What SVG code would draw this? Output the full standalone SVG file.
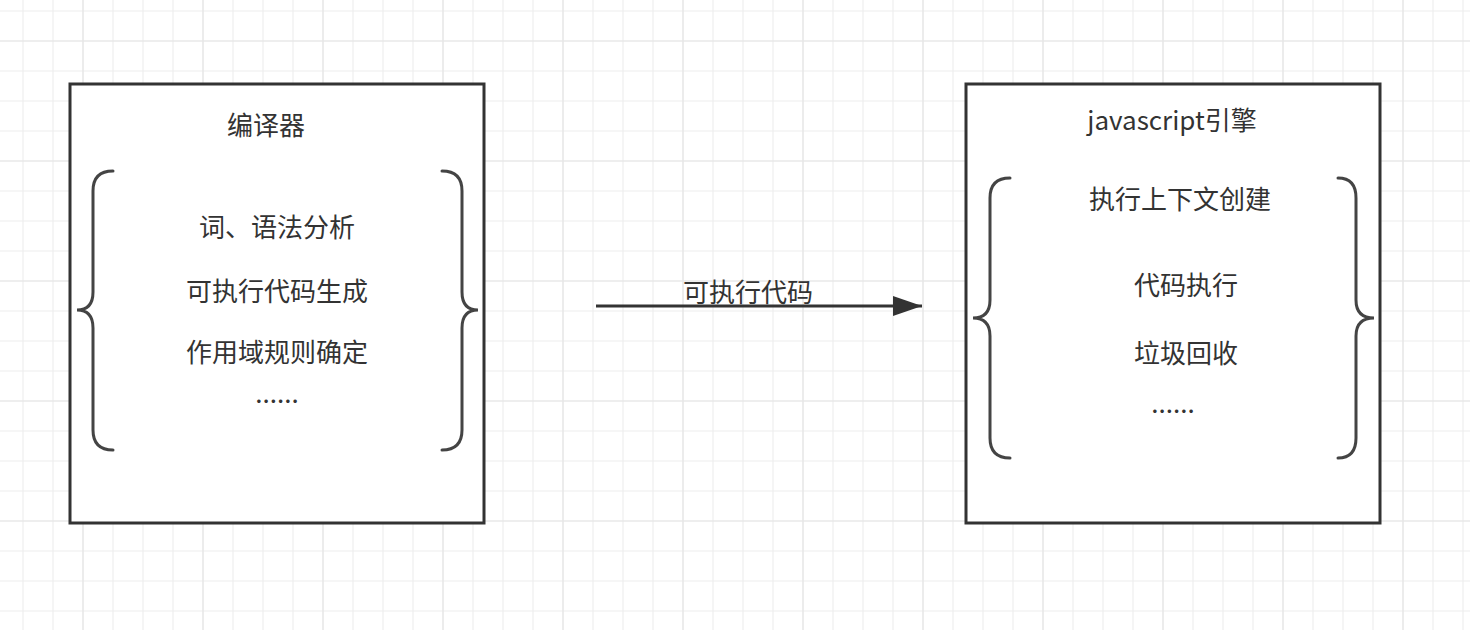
<svg xmlns="http://www.w3.org/2000/svg" width="1470" height="630" viewBox="0 0 1470 630">
  <defs>
    <pattern id="minor" patternUnits="userSpaceOnUse" x="8" y="-4" width="30" height="30">
      <path d="M15 0 V30 M0 15 H30" stroke="#eeeeee" stroke-width="1.2" fill="none"/>
    </pattern>
    <pattern id="major" patternUnits="userSpaceOnUse" x="23" y="-19" width="120" height="120">
      <path d="M60 0 V120 M0 60 H120" stroke="#e6e6e6" stroke-width="1.2" fill="none"/>
    </pattern>
    <marker id="arrow" markerUnits="userSpaceOnUse" markerWidth="32" markerHeight="24" refX="30" refY="10" orient="auto">
      <path d="M1,0 L30,10 L1,20 Z" fill="#333333"/>
    </marker>
    <style>
      .box { fill: #ffffff; stroke: #333333; stroke-width: 3; }
      .brace { fill: none; stroke: #444444; stroke-width: 3; stroke-linecap: round; }
      .t { font-family: "Noto Sans CJK SC", "Noto Sans", sans-serif; font-size: 26px; fill: #333333; text-anchor: middle; }
      .conn { stroke: #333333; stroke-width: 3; fill: none; }
    </style>
  </defs>
  <rect width="1470" height="630" fill="#ffffff"/>
  <rect width="1470" height="630" fill="url(#minor)"/>
  <rect width="1470" height="630" fill="url(#major)"/>

  <g id="compiler">
    <rect class="box" x="70" y="84" width="414" height="439"/>
    <text class="t" x="266" y="135">编译器</text>
    <path class="brace" d="M113,171 Q93,171 93,191 L93,292 Q93,310 77,310 Q93,310 93,328 L93,430 Q93,450 113,450"/>
    <path class="brace" d="M442,171 Q462,171 462,191 L462,292 Q462,310 478,310 Q462,310 462,328 L462,430 Q462,450 442,450"/>
    <text class="t" x="277" y="237">词、语法分析</text>
    <text class="t" x="277" y="301">可执行代码生成</text>
    <text class="t" x="277" y="362">作用域规则确定</text>
    <text class="t" x="277" y="403">......</text>
  </g>

  <g id="engine">
    <rect class="box" x="966" y="84" width="414" height="439"/>
    <text class="t" x="1172" y="130">javascript引擎</text>
    <path class="brace" d="M1010,178 Q990,178 990,198 L990,300 Q990,318 973,318 Q990,318 990,336 L990,438 Q990,458 1010,458"/>
    <path class="brace" d="M1338,178 Q1356,178 1356,198 L1356,300 Q1356,318 1374,318 Q1356,318 1356,336 L1356,438 Q1356,458 1338,458"/>
    <text class="t" x="1180" y="209">执行上下文创建</text>
    <text class="t" x="1186" y="295">代码执行</text>
    <text class="t" x="1186" y="363">垃圾回收</text>
    <text class="t" x="1173" y="413">......</text>
  </g>

  <g id="connectors">
    <path class="conn" d="M596,306 L922,306" marker-end="url(#arrow)"/>
    <text class="t" x="748" y="302">可执行代码</text>
  </g>
</svg>
